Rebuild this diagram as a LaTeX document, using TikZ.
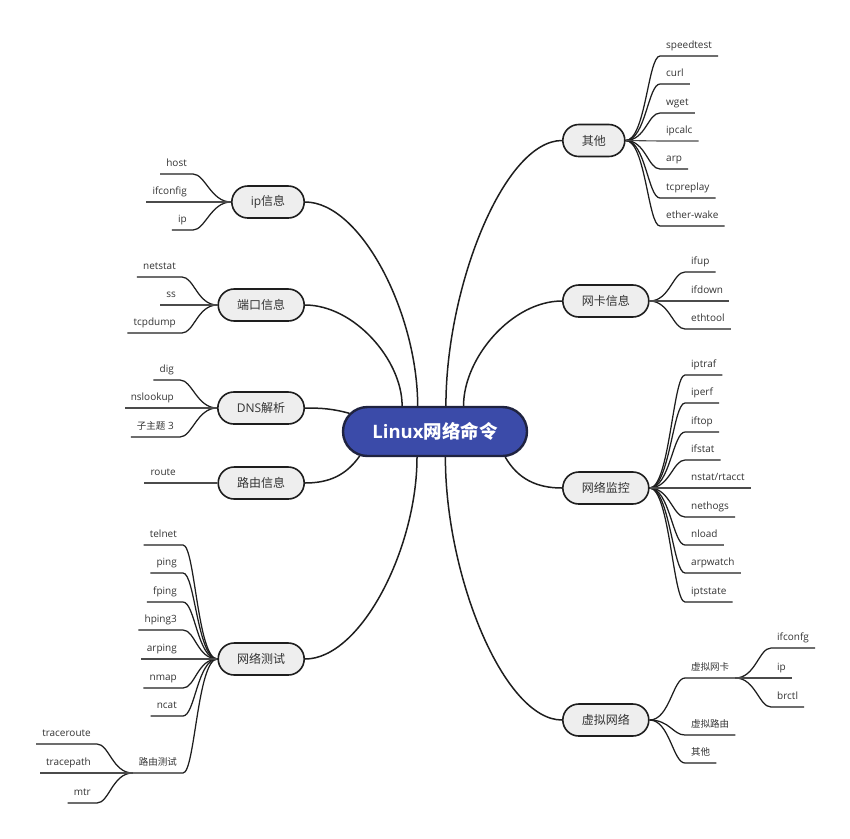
\documentclass[tikz,border=0pt]{standalone}
\usepackage{fontspec}
\setmainfont{Open Sans}
\newfontfamily\cjk{Noto Sans CJK SC}
\usetikzlibrary{shapes.misc,backgrounds}
\definecolor{hubblue}{HTML}{3B4BA9}
\definecolor{hubline}{HTML}{1F2340}
\definecolor{linec}{HTML}{1E1E1E}
\definecolor{topicfill}{HTML}{EEEEEE}
\definecolor{leaftext}{HTML}{333333}
\tikzset{
  rootnode/.style={rounded rectangle, draw=hubline, fill=hubblue, line width=2.4pt,
    minimum width=184pt, minimum height=49pt, inner xsep=0pt, inner ysep=0pt,
    text=white, font=\fontsize{18.5}{20}\selectfont\bfseries},
  topic/.style={rectangle, rounded corners=16pt, draw=linec, fill=topicfill, line width=1.6pt,
    minimum height=32pt, inner xsep=19pt, inner ysep=0pt, text=leaftext,
    font=\fontsize{12}{14}\selectfont},
  leafR/.style={anchor=south west, inner xsep=6pt, inner ysep=7pt, text depth=0pt,
    text=leaftext, font=\fontsize{10}{12}\selectfont},
  leafL/.style={leafR, anchor=south east},
  cjkleaf/.style={font=\fontsize{9.5}{11}\selectfont\cjk},
  branch/.style={draw=linec, line width=1.5pt},
  twig/.style={draw=linec, line width=1.25pt},
  flat/.style={draw=linec!80, line width=1.1pt},
  rcurve/.style={out=0, in=180, out distance=20pt, in distance=12pt},
  lcurve/.style={out=180, in=0, out distance=20pt, in distance=12pt}
}
\begin{document}
\begin{tikzpicture}[x=1pt,y=1pt]
\useasboundingbox (0,0) rectangle (850,-838);
% root
\node[rootnode] (root) at (435,-431.5) {Linux{\cjk 网络命令}};
% main topics
\node[topic, anchor=west] (qita) at (562,-140.5) {{\cjk 其他}};
\node[topic, anchor=west] (wangka) at (562,-301) {{\cjk 网卡信息}};
\node[topic, anchor=west] (jiankong) at (562,-488) {{\cjk 网络监控}};
\node[topic, anchor=west] (xuni) at (562,-720) {{\cjk 虚拟网络}};
\node[topic, anchor=east] (ipinfo) at (305,-202) {ip{\cjk 信息}};
\node[topic, anchor=east] (duankou) at (305,-305) {{\cjk 端口信息}};
\node[topic, anchor=east] (dns) at (305,-408) {DNS{\cjk 解析}};
\node[topic, anchor=east] (luyou) at (305,-483) {{\cjk 路由信息}};
\node[topic, anchor=east] (ceshi) at (305,-659) {{\cjk 网络测试}};
% leaves: qita
\node[leafR] (q1) at (660,-56) {speedtest};
\node[leafR] (q2) at (660,-84) {curl};
\node[leafR] (q3) at (660,-113) {wget};
\node[leafR] (q4) at (660,-141) {ipcalc};
\node[leafR] (q5) at (660,-169) {arp};
\node[leafR] (q6) at (660,-198) {tcpreplay};
\node[leafR] (q7) at (660,-226) {ether-wake};
% leaves: wangka
\node[leafR] (w1) at (685,-272) {ifup};
\node[leafR] (w2) at (685,-301) {ifdown};
\node[leafR] (w3) at (685,-329) {ethtool};
% leaves: jiankong
\node[leafR] (j1) at (685,-375) {iptraf};
\node[leafR] (j2) at (685,-403) {iperf};
\node[leafR] (j3) at (685,-432) {iftop};
\node[leafR] (j4) at (685,-460) {ifstat};
\node[leafR] (j5) at (685,-488) {nstat/rtacct};
\node[leafR] (j6) at (685,-517) {nethogs};
\node[leafR] (j7) at (685,-545) {nload};
\node[leafR] (j8) at (685,-573) {arpwatch};
\node[leafR] (j9) at (685,-602) {iptstate};
% leaves: xuni
\node[leafR, cjkleaf] (x1) at (685,-678) {虚拟网卡};
\node[leafR, cjkleaf] (x2) at (685,-735) {虚拟路由};
\node[leafR, cjkleaf] (x3) at (685,-763) {其他};
\node[leafR] (v1) at (771,-648) {ifconfg};
\node[leafR] (v2) at (771,-678) {ip};
\node[leafR] (v3) at (771,-707) {brctl};
% leaves: ipinfo
\node[leafL] (i1) at (193,-174) {host};
\node[leafL] (i2) at (193,-202) {ifconfig};
\node[leafL] (i3) at (193,-230) {ip};
% leaves: duankou
\node[leafL] (d1) at (182,-277) {netstat};
\node[leafL] (d2) at (182,-305) {ss};
\node[leafL] (d3) at (182,-333) {tcpdump};
% leaves: dns
\node[leafL] (n1) at (180,-380) {dig};
\node[leafL] (n2) at (180,-408) {nslookup};
\node[leafL] (n3) at (180,-437) {{\fontsize{9.5}{11}\selectfont\cjk 子主题} 3};
% leaves: luyou
\node[leafL] (r1) at (182,-483) {route};
% leaves: ceshi
\node[leafL] (t1) at (183,-545) {telnet};
\node[leafL] (t2) at (183,-573) {ping};
\node[leafL] (t3) at (183,-602) {fping};
\node[leafL] (t4) at (183,-630) {hping3};
\node[leafL] (t5) at (183,-659) {arping};
\node[leafL] (t6) at (183,-688) {nmap};
\node[leafL] (t7) at (183,-716) {ncat};
\node[leafL, cjkleaf] (t8) at (183,-773) {路由测试};
\node[leafL] (u1) at (97,-744) {traceroute};
\node[leafL] (u2) at (97,-773) {tracepath};
\node[leafL] (u3) at (97,-803) {mtr};

\begin{pgfonlayer}{background}
% root to topics
\draw[branch] (ipinfo.east) to[out=0,in=90,out distance=56pt,in distance=92pt] (root.124.8);
\draw[branch] (duankou.east) to[out=0,in=90,out distance=49pt,in distance=46pt] (root.142.6);
\draw[branch] (dns.east) to[out=0,in=165] (root.168);
\draw[branch] (luyou.east) to[out=0,in=235] (root.198);
\draw[branch] (ceshi.east) to[out=0,in=270,out distance=56pt,in distance=91pt] (root.235.2);
\draw[branch] (qita.west) to[out=180,in=90,out distance=58pt,in distance=119pt] (root.67.8);
\draw[branch] (wangka.west) to[out=180,in=90,out distance=50pt,in distance=48pt] (root.42.2);
\draw[branch] (jiankong.west) to[out=180,in=300] (root.340.7);
\draw[branch] (xuni.west) to[out=180,in=270,out distance=58pt,in distance=119pt] (root.292.2);
% right twigs
\foreach \n in {q1,q2,q3,q5,q6,q7}
  \draw[twig] (qita.east) to[rcurve] (\n.south west) -- (\n.south east);
\draw[flat] (qita.east) -- (q4.south west) -- (q4.south east);
\foreach \n in {w1,w3}
  \draw[twig] (wangka.east) to[rcurve] (\n.south west) -- (\n.south east);
\draw[flat] (wangka.east) -- (w2.south west) -- (w2.south east);
\foreach \n in {j1,j2,j3,j4,j6,j7,j8,j9}
  \draw[twig] (jiankong.east) to[rcurve] (\n.south west) -- (\n.south east);
\draw[flat] (jiankong.east) -- (j5.south west) -- (j5.south east);
\foreach \n in {x1,x2,x3}
  \draw[twig] (xuni.east) to[rcurve] (\n.south west) -- (\n.south east);
\foreach \n in {v1,v3}
  \draw[twig] (x1.south east) to[rcurve] (\n.south west) -- (\n.south east);
\draw[flat] (x1.south east) -- (v2.south west) -- (v2.south east);
% left twigs
\foreach \n in {i1,i3}
  \draw[twig] (ipinfo.west) to[lcurve] (\n.south east) -- (\n.south west);
\draw[flat] (ipinfo.west) -- (i2.south east) -- (i2.south west);
\foreach \n in {d1,d3}
  \draw[twig] (duankou.west) to[lcurve] (\n.south east) -- (\n.south west);
\draw[flat] (duankou.west) -- (d2.south east) -- (d2.south west);
\foreach \n in {n1,n3}
  \draw[twig] (dns.west) to[lcurve] (\n.south east) -- (\n.south west);
\draw[flat] (dns.west) -- (n2.south east) -- (n2.south west);
\draw[flat] (luyou.west) -- (r1.south east) -- (r1.south west);
\foreach \n in {t1,t2,t3,t4,t6,t7,t8}
  \draw[twig] (ceshi.west) to[lcurve] (\n.south east) -- (\n.south west);
\draw[flat] (ceshi.west) -- (t5.south east) -- (t5.south west);
\foreach \n in {u1,u3}
  \draw[twig] (t8.south west) to[lcurve] (\n.south east) -- (\n.south west);
\draw[flat] (t8.south west) -- (u2.south east) -- (u2.south west);
\end{pgfonlayer}
\end{tikzpicture}
\end{document}
